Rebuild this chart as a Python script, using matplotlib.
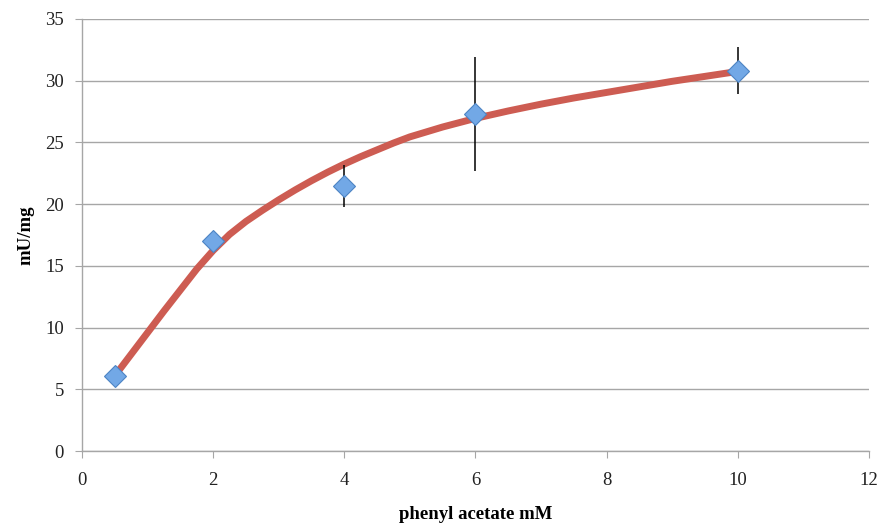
import matplotlib
matplotlib.use("Agg")
import matplotlib.pyplot as plt

# measured points
conc = [0.5, 2, 4, 6, 10]
activity = [6.1, 17.0, 21.5, 27.3, 30.8]
err = [0.3, 0.75, 1.7, 4.6, 1.9]

# smoothed trend line
curve_x = [0.5, 0.75, 1.0, 1.25, 1.5, 1.75, 2.0, 2.25, 2.5, 2.75, 3.0, 3.25, 3.5,
           3.75, 4.0, 4.25, 4.5, 4.75, 5.0, 5.25, 5.5, 5.75, 6.0, 6.5, 7.0, 7.5,
           8.0, 9.0, 10.0]
curve_y = [6.1, 7.85, 9.6, 11.35, 13.05, 14.75, 16.25, 17.55, 18.6, 19.5, 20.35,
           21.15, 21.9, 22.6, 23.25, 23.85, 24.4, 24.95, 25.45, 25.85, 26.25, 26.6,
           26.95, 27.55, 28.1, 28.6, 29.05, 29.95, 30.75]

xticks = [0, 2, 4, 6, 8, 10, 12]
yticks = [0, 5, 10, 15, 20, 25, 30, 35]

plt.rcParams['font.family'] = ['Liberation Serif', 'DejaVu Serif']

fig = plt.figure(figsize=(8.85, 5.27), dpi=100)
ax = fig.add_axes([0.0927, 0.144, 0.889, 0.820])

ax.plot(curve_x, curve_y, color='#cd5c52', lw=5, solid_capstyle='round',
        solid_joinstyle='round', zorder=2)
ax.errorbar(conc, activity, yerr=err, fmt='none', ecolor='black', elinewidth=1.1,
            capsize=0, zorder=3)
ax.plot(conc, activity, ls='none', marker='D', markersize=11.5,
        markerfacecolor='#72a8e6', markeredgecolor='#4d84c4', markeredgewidth=0.8,
        zorder=4)

ax.set_xlim(0, 12)
ax.set_ylim(0, 35)
ax.set_xticks(xticks)
ax.set_yticks(yticks)
ax.yaxis.grid(True, color='#a6a6a6', lw=1)
ax.set_axisbelow(True)

for s in ['top', 'right']:
    ax.spines[s].set_visible(False)
for s in ['left', 'bottom']:
    ax.spines[s].set_color('#a6a6a6')
    ax.spines[s].set_linewidth(1)
ax.tick_params(direction='out', length=5, color='#a6a6a6', labelsize=13.5,
               labelcolor='#222222')
ax.tick_params(axis='x', pad=10)
ax.tick_params(axis='y', pad=8)

ax.set_xlabel('phenyl acetate mM', fontsize=13.5, fontweight='bold', labelpad=12)
ax.set_ylabel('mU/mg', fontsize=13.5, fontweight='bold', labelpad=8)

fig.savefig('out.png', dpi=100)
